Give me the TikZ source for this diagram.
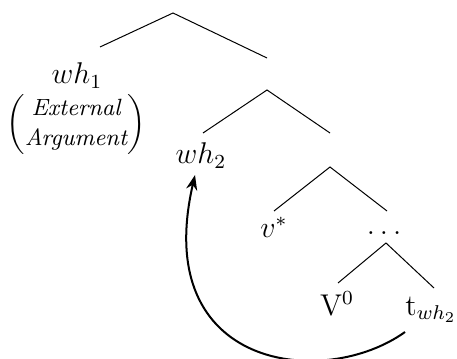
\documentclass[tikz,border=0pt]{standalone}
\usetikzlibrary{arrows.meta}
\usepackage{xcolor}

\tikzset{
  lab/.style={inner sep=0pt, anchor=base, font=\fontsize{12}{14}\selectfont},
  branch/.style={line width=0.4pt},
  move/.style={thick, -{Stealth[length=6pt, width=4.5pt]}}
}

\begin{document}
\begin{tikzpicture}[x=0.4pt, y=-0.4pt]
  \useasboundingbox (0,0) rectangle (457,358);
  % apex points and branch ends
  \coordinate (r) at (173,13);
  \coordinate (rl) at (100,47);
  \coordinate (rr) at (267,58);
  \coordinate (n2) at (267,90);
  \coordinate (n2l) at (203,133);
  \coordinate (n2r) at (330,133);
  \coordinate (n3) at (330,167);
  \coordinate (n3l) at (274,211);
  \coordinate (n3r) at (387,211);
  \coordinate (n4) at (386,243);
  \coordinate (n4l) at (338,283);
  \coordinate (n4r) at (434,288);
  % labels
  \node[lab] (wh1) at (77,84) {$wh_1$};
  \node[lab, anchor=center] (ea) at (76,125) {\fontsize{9.4}{10}\selectfont$\left(\renewcommand{\arraystretch}{1.2}\begin{array}{@{}c@{}}\textit{External}\\\textit{Argument}\end{array}\right)$};
  \node[lab] (wh2) at (201,164) {$wh_2$};
  \node[lab] (vs) at (274,237) {$v^{*}$};
  \node[lab] (dots) at (384,234) {$\dots$};
  \node[lab] (v0) at (337,315) {V$^0$};
  \node[lab] (tw) at (431,315) {t$_{wh_2}$};
  % tree
  \draw[branch] (rl) -- (r) -- (rr);
  \draw[branch] (n2l) -- (n2) -- (n2r);
  \draw[branch] (n3l) -- (n3) -- (n3r);
  \draw[branch] (n4l) -- (n4) -- (n4r);
  % movement
  \draw[move] ([shift={(-26,17)}]tw.base) .. controls (324,390) and (150,370) .. ([shift={(-6,11)}]wh2.base);
\end{tikzpicture}
\end{document}
